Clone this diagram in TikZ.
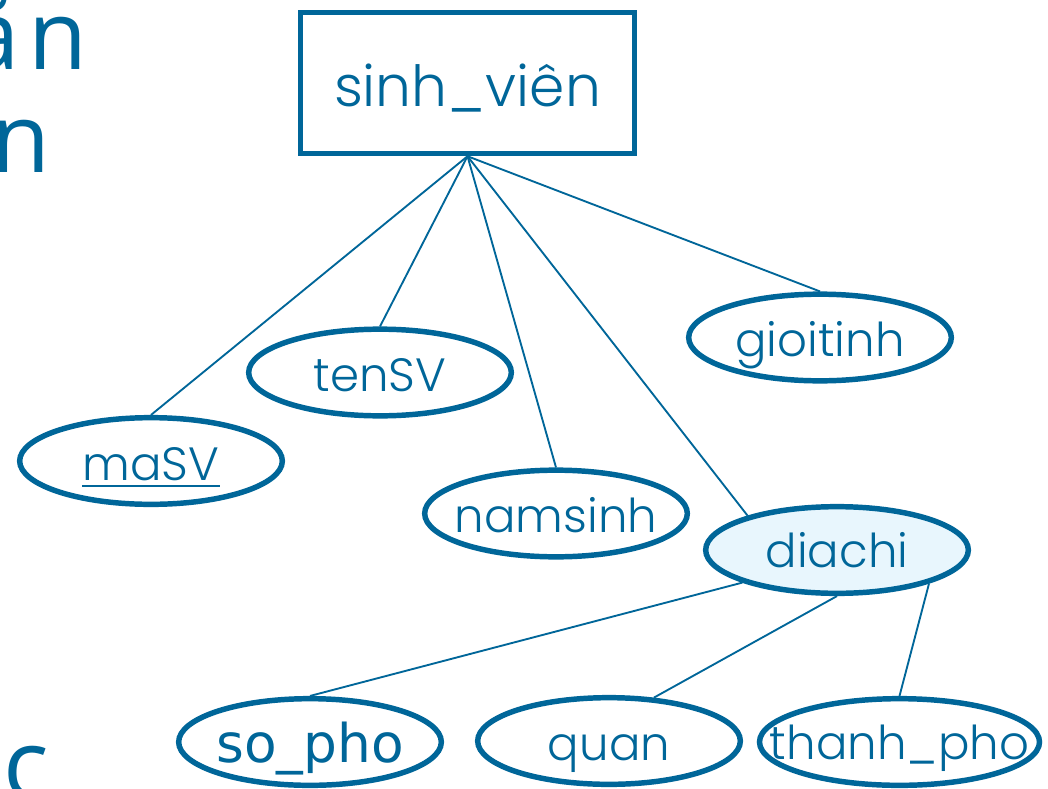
\documentclass[tikz,border=0pt]{standalone}
\usepackage{fontspec}
\IfFontExistsTF{Poppins Light}{\setmainfont{Poppins Light}}{\setmainfont{Poppins}}
\newfontfamily\dejavu{DejaVu Sans}
\newfontfamily\opensans{Open Sans}
\usetikzlibrary{shapes.geometric}
\definecolor{erblue}{RGB}{0,102,153}
\definecolor{erfill}{RGB}{232,246,253}
\begin{document}
\begin{tikzpicture}[x=0.75pt,y=-0.75pt,
  attr/.style={ellipse, draw=erblue, line width=4.1pt, inner sep=0pt,
    minimum width=197pt, minimum height=65pt},
  ent/.style={rectangle, draw=erblue, line width=4.1pt, inner sep=0pt,
    minimum width=250.5pt, minimum height=105.75pt},
  lbl/.style={anchor=base, inner sep=0pt, text=erblue,
    font=\fontsize{35}{40}\selectfont},
  entlbl/.style={anchor=base, inner sep=0pt, text=erblue,
    font=\fontsize{42.5}{48}\selectfont},
  link/.style={draw=erblue, line width=1.4pt},
  keyline/.style={draw=erblue, line width=1.6pt},
  bgtext/.style={inner sep=0pt, text=erblue, font=\opensans\fontsize{72}{80}\selectfont}]
\useasboundingbox (0,0) rectangle (1048,788);
\fill[white] (0,0) rectangle (1048,788);

% partial slide text at the left edge
\node[bgtext, anchor=base east] (bg1) at (88,70) {ắ\kern7pt n};
\node[bgtext, anchor=base west] (bg2) at (-8.5,172) {n};
\node[bgtext, anchor=base west] (bg3) at (3,798) {c};

% entity
\node[ent] (sv) at (467.5,83) {};
\node[entlbl] (svt) at ([yshift=-18pt]sv.center) {sinh\_viên};

% attributes
\node[attr] (maSV) at (151,461) {};
\node[attr] (tenSV) at (380,372.5) {};
\node[attr] (namsinh) at (556,513.5) {};
\node[attr] (gioitinh) at (820,337.5) {};
\node[attr, fill=erfill] (diachi) at (837,550) {};
\node[attr] (sopho) at (310,742) {};
\node[attr] (quan) at (609,741) {};
\node[attr, minimum width=210pt] (thanhpho) at (899.5,742) {};

\node[lbl] (maSVt) at ([yshift=-14.4pt]maSV.center) {maSV};
\draw[keyline] ([yshift=-4.6pt]maSVt.base west) -- ([yshift=-4.6pt]maSVt.base east);
\node[lbl] (tenSVt) at ([yshift=-14.4pt]tenSV.center) {tenSV};
\node[lbl] (namsinht) at ([yshift=-14.4pt]namsinh.center) {namsinh};
\node[lbl] (gioitinht) at ([yshift=-14.4pt]gioitinh.center) {gioitinh};
\node[lbl] (diachit) at ([yshift=-13pt]diachi.center) {diachi};
\node[lbl, font=\dejavu\fontsize{40}{44}\selectfont] (sophot) at ([yshift=-15pt]sopho.center) {so\_pho};
\node[lbl] (quant) at ([yshift=-14.4pt]quan.center) {quan};
\node[lbl] (thanhphot) at ([yshift=-13pt]thanhpho.center) {thanh\_pho};

% connectors
\draw[link] (sv.south) -- (maSV.north);
\draw[link] (sv.south) -- (tenSV.north);
\draw[link] (sv.south) -- (namsinh.north);
\draw[link] (sv.south) -- (diachi.159);
\draw[link] (sv.south) -- (gioitinh.north);
\draw[link] (diachi.199) -- (sopho.north);
\draw[link] (diachi.south) -- (quan.44);
\draw[link] (diachi.-20) -- (thanhpho.north);
\end{tikzpicture}
\end{document}
